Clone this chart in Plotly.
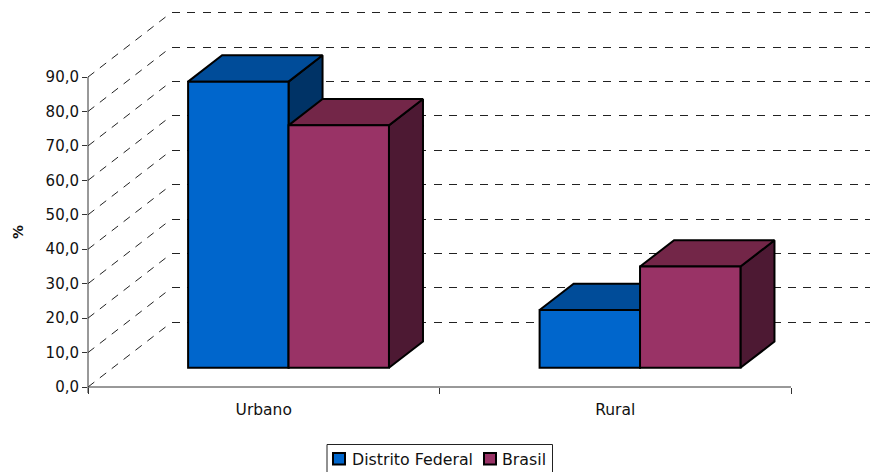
import plotly.graph_objects as go

categories = ["Urbano", "Rural"]
series_names = ["Distrito Federal", "Brasil"]
distrito_federal = [83.1, 16.8]
brasil = [70.4, 29.4]
y_ticks = [0, 10, 20, 30, 40, 50, 60, 70, 80, 90]

W, H = 870, 472
FONT = "DejaVu Sans"
TXT = "#111111"
PX_CAT = 351.5      # pixels per category
PX_VAL = 3.444      # pixels per y unit
L, R0, B = 88, 791, 387
BACK_DX, BACK_DY = 84, 65  # wall depth in pixels
dx_unit = BACK_DX / PX_CAT
dy_unit = BACK_DY / PX_VAL
BAR_W = 1 / 3.5
D0, D1 = 0.295, 0.70  # bar depth span as fraction of chart depth
EDGE = 2

colors = [("#0066CC", "#004C99", "#003366"), ("#993366", "#732648", "#4D1933")]
values = [distrito_federal, brasil]


def hfrac(px):
    return px / W


def vfrac(px):
    return (H - px) / H


fig = go.Figure()

# diagonal floor-to-wall guide lines
for t in y_ticks:
    fig.add_trace(go.Scatter(
        x=[-0.5, -0.5 + dx_unit * 0.95], y=[t, t + dy_unit * 0.95],
        mode="lines", line=dict(color="#222222", width=1, dash="8px,7px"),
        xaxis="x3", yaxis="y3", showlegend=False, hoverinfo="skip", zorder=0,
    ))

for s, (name, vals, cols) in enumerate(zip(series_names, values, colors)):
    front, top, side = cols
    xs = [i + dx_unit * D0 + (s - 1) * BAR_W for i in range(len(categories))]
    base = dy_unit * D0
    dxb = dx_unit * (D1 - D0)
    dyb = dy_unit * (D1 - D0)
    z = 1 + 2 * s
    for x0, v in zip(xs, vals):
        x1 = x0 + BAR_W
        y0, y1 = base, base + v
        # side face
        fig.add_trace(go.Scatter(
            x=[x1, x1 + dxb, x1 + dxb, x1, x1], y=[y0, y0 + dyb, y1 + dyb, y1, y0],
            mode="lines", fill="toself", fillcolor=side,
            line=dict(color="black", width=EDGE),
            xaxis="x3", yaxis="y3", showlegend=False, hoverinfo="skip", zorder=z,
        ))
        # top face
        fig.add_trace(go.Scatter(
            x=[x0, x1, x1 + dxb, x0 + dxb, x0], y=[y1, y1, y1 + dyb, y1 + dyb, y1],
            mode="lines", fill="toself", fillcolor=top,
            line=dict(color="black", width=EDGE),
            xaxis="x3", yaxis="y3", showlegend=False, hoverinfo="skip", zorder=z,
        ))
    # front face
    fig.add_trace(go.Bar(
        x=xs, y=vals, base=[base] * len(vals), width=BAR_W, offset=0, name=name,
        marker=dict(color=front, line=dict(color="black", width=EDGE)),
        xaxis="x3", yaxis="y3", showlegend=False, zorder=z + 1,
    ))

# visible axes carrier (transparent points keep the category axis alive)
fig.add_trace(go.Scatter(
    x=categories, y=[0, 0], xaxis="x2", yaxis="y2", opacity=0,
    mode="markers", showlegend=False, hoverinfo="skip",
))
# back wall grid carrier
fig.add_trace(go.Scatter(
    x=[0, 1], y=[0, 0], xaxis="x", yaxis="y", opacity=0,
    mode="markers", showlegend=False, hoverinfo="skip",
))

GRID_TOP, GRID_BOT = 13, 322
GRID_PAD = 1.0  # y units of padding so first and last grid lines are drawn
layout = dict(
    width=W, height=H, margin=dict(l=0, r=0, t=0, b=0, autoexpand=False), autosize=False,
    paper_bgcolor="white", plot_bgcolor="rgba(0,0,0,0)",
    separators=",.", barmode="overlay", showlegend=False,
    font=dict(family=FONT, size=15, color=TXT),
    # back wall grid
    xaxis=dict(domain=[hfrac(172), 1], range=[0, 1], visible=False),
    yaxis=dict(domain=[vfrac(GRID_BOT + GRID_PAD * PX_VAL), vfrac(GRID_TOP - GRID_PAD * PX_VAL)],
               range=[-GRID_PAD, 90 + GRID_PAD], tickvals=y_ticks,
               showgrid=True, griddash="8px,7.4px", gridcolor="#222222", gridwidth=1,
               zeroline=False, showline=False, showticklabels=False, ticks=""),
    # visible axes
    xaxis2=dict(domain=[hfrac(L), hfrac(R0)], range=[-0.5, 1.5], type="category",
                tickson="boundaries", anchor="y2", showline=False,
                ticks="outside", ticklen=6, tickcolor="#333333", showgrid=False,
                categoryorder="array", categoryarray=categories, automargin=False,
                tickfont=dict(size=15.5), ticklabelstandoff=11),
    yaxis2=dict(domain=[vfrac(B), vfrac(B - 90 * PX_VAL)], range=[0, 90], anchor="x2",
                tickvals=y_ticks, tickformat=".1f", showline=False,
                ticks="outside", ticklen=5, tickcolor="#333333", showgrid=False,
                zeroline=False, automargin=False,
                title=dict(text="<b>%</b>", standoff=18, font=dict(size=14))),
    # marks
    xaxis3=dict(domain=[hfrac(L), 1], range=[-0.5, -0.5 + (W - L) / PX_CAT], anchor="y3",
                visible=False),
    yaxis3=dict(domain=[vfrac(B), vfrac(13)], range=[0, (B - 13) / PX_VAL], anchor="x3",
                visible=False),
)
fig.update_layout(**layout)

# axis lines tied to the axes' own domains
fig.add_shape(type="line", xref="x2 domain", yref="y2 domain", x0=0, x1=1, y0=0, y1=0,
              line=dict(color="#333333", width=1))
fig.add_shape(type="line", xref="x2 domain", yref="y2 domain", x0=0, x1=0, y0=-6 / (90 * PX_VAL), y1=1,
              line=dict(color="#333333", width=1))

# legend box
fig.add_shape(type="rect", xref="paper", yref="paper",
              x0=hfrac(327), x1=hfrac(552.5), y0=vfrac(474), y1=vfrac(444.5),
              line=dict(color="#222222", width=1), fillcolor="white")
leg_x = [(333, 349.5), (484, 500)]
for (sx, tx), name, cols in zip(leg_x, series_names, colors):
    fig.add_shape(type="rect", xref="paper", yref="paper",
                  x0=hfrac(sx), x1=hfrac(sx + 12), y0=vfrac(464.5), y1=vfrac(453),
                  line=dict(color="black", width=2), fillcolor=cols[0])
    fig.add_annotation(xref="paper", yref="paper", x=hfrac(tx), y=vfrac(459),
                       text=name, showarrow=False, xanchor="left", yanchor="middle",
                       font=dict(size=15.8, color=TXT))

fig.write_html("out.html", config={"displayModeBar": False},
               post_script="document.body.style.margin='0';document.body.style.overflow='hidden';")
